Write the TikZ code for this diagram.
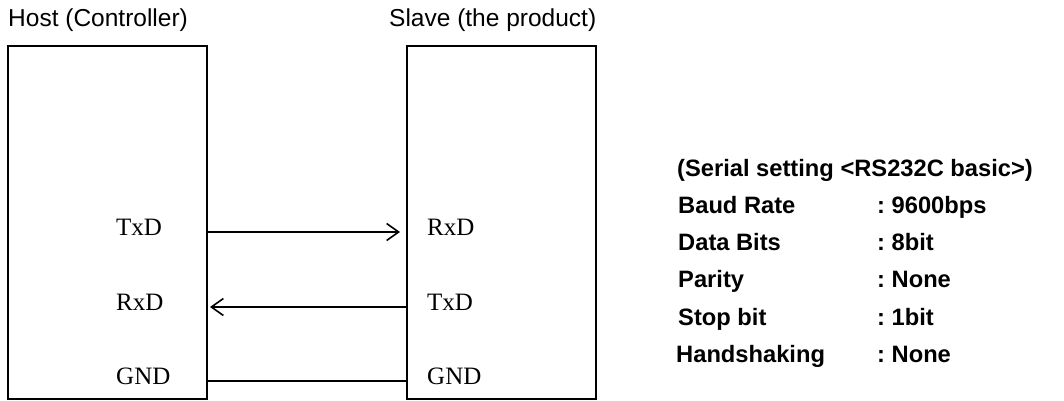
\documentclass[tikz,border=0pt]{standalone}
\usepackage{fontspec}
\setmainfont{Liberation Sans}
\newfontfamily\serifx{Liberation Serif}
\usetikzlibrary{arrows.meta}
\frenchspacing
\begin{document}
\begin{tikzpicture}[x=1pt,y=-1pt,
  box/.style={draw,line width=1.6pt,inner sep=0pt,outer sep=0pt,anchor=north west},
  wire/.style={line width=1.6pt},
  tip/.style={-{Straight Barb[length=12pt,width=17pt,line width=1.6pt]}},
  title/.style={anchor=base west,inner sep=0pt,font=\fontsize{24.5}{28}\selectfont},
  sig/.style={anchor=base west,inner sep=0pt,font=\serifx\fontsize{25}{28}\selectfont},
  set/.style={anchor=base west,inner sep=0pt,font=\bfseries\frenchspacing\fontsize{23.7}{28}\selectfont}]
\useasboundingbox (0,0) rectangle (1064,401);
\node[box,minimum width=199pt,minimum height=353pt] (host) at (8,46) {};
\node[box,minimum width=189pt,minimum height=353pt] (slave) at (407,46) {};
\node[title] (ht) at (8,27) {Host (Controller)};
\node[title] (st) at (389,27) {Slave (the product)};
\node[sig] (htx) at (116,235) {TxD};
\node[sig] (hrx) at (116,310) {RxD};
\node[sig] (hgnd) at (116,384) {GND};
\node[sig] (srx) at (427,235) {RxD};
\node[sig] (stx) at (427,310) {TxD};
\node[sig] (sgnd) at (427,384) {GND};
\coordinate (a1) at (207,232); \coordinate (b1) at (400,232);
\coordinate (a2) at (210,307); \coordinate (b2) at (407,307);
\coordinate (a3) at (207,381); \coordinate (b3) at (407,381);
\draw[wire,tip] (a1) -- (b1);
\draw[wire,tip] (b2) -- (a2);
\draw[wire] (a3) -- (b3);
\node[set] (s0) at (677,176) {(Serial setting <RS232C basic>)};
\node[set] (s1) at (678,213) {Baud Rate};
\node[set] (v1) at (877,213) {: 9600bps};
\node[set] (s2) at (678,250) {Data Bits};
\node[set] (v2) at (877,250) {: 8bit};
\node[set] (s3) at (678,287) {Parity};
\node[set] (v3) at (877,287) {: None};
\node[set] (s4) at (678,325) {Stop bit};
\node[set] (v4) at (877,325) {: 1bit};
\node[set] (s5) at (676,362) {Handshaking};
\node[set] (v5) at (877,362) {: None};
\end{tikzpicture}
\end{document}
